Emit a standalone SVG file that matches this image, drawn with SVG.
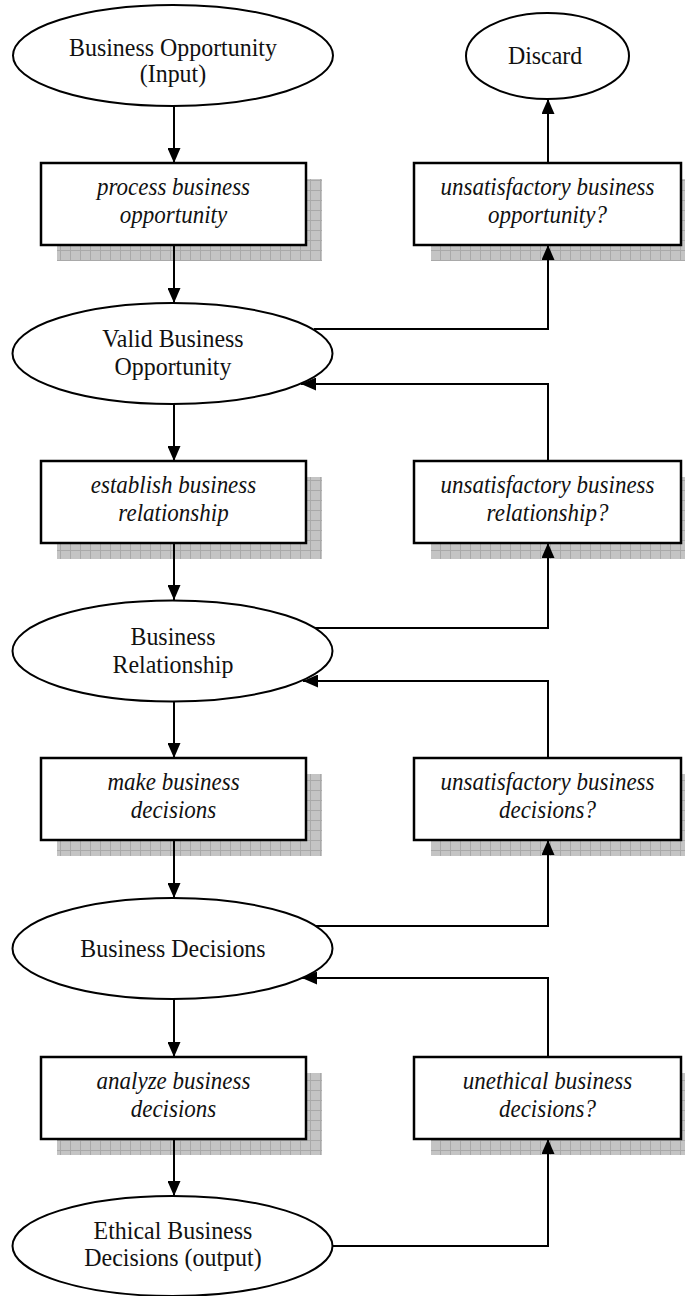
<svg xmlns="http://www.w3.org/2000/svg" width="685" height="1296" viewBox="0 0 685 1296">
  <style>
    .oval { fill: #ffffff; stroke: #000000; stroke-width: 2; }
    .box { fill: #ffffff; stroke: #000000; stroke-width: 2.5; }
    .shadow { fill: url(#grid); stroke: none; }
    .lbl { font-family: "Liberation Serif", "Times New Roman", serif; font-size: 26px; fill: #111111; text-anchor: middle; }
    .act { font-family: "Liberation Serif", "Times New Roman", serif; font-size: 25px; font-style: italic; fill: #111111; text-anchor: middle; }
    .link { fill: none; stroke: #000000; stroke-width: 2; marker-end: url(#arrow); }
  </style>
  <defs>
    <!-- grey cross-ruled fill for the drop shadows -->
    <pattern id="grid" width="10" height="10" patternUnits="userSpaceOnUse">
      <rect width="10" height="10" fill="#c4c4c4"/>
      <path d="M0,0.5 H10 M0.5,0 V10" stroke="#a9a9a9" stroke-width="1"/>
    </pattern>
    <marker id="arrow" markerWidth="15" markerHeight="13" refX="15" refY="6.5" orient="auto" markerUnits="userSpaceOnUse">
      <path d="M0,0 L15,6.5 L0,13 z" fill="#000000"/>
    </marker>
  </defs>

  <rect width="685" height="1296" fill="#ffffff"/>

  <!-- text is set slightly narrow: x positions are divided by 0.92 -->

  <!-- left column: states -->
  <g id="input">
    <ellipse class="oval" cx="173" cy="55.5" rx="160" ry="50.5"/>
    <g transform="scale(0.92,1)">
      <text class="lbl" x="188" y="56">Business Opportunity</text>
      <text class="lbl" x="188" y="82">(Input)</text>
    </g>
  </g>
  <g id="valid-opportunity">
    <ellipse class="oval" cx="172.5" cy="353.5" rx="160" ry="50.5"/>
    <g transform="scale(0.92,1)">
      <text class="lbl" x="188" y="347">Valid Business</text>
      <text class="lbl" x="188" y="375">Opportunity</text>
    </g>
  </g>
  <g id="relationship">
    <ellipse class="oval" cx="172.5" cy="651" rx="160" ry="50.5"/>
    <g transform="scale(0.92,1)">
      <text class="lbl" x="188" y="645">Business</text>
      <text class="lbl" x="188" y="673">Relationship</text>
    </g>
  </g>
  <g id="decisions">
    <ellipse class="oval" cx="172.5" cy="948.5" rx="160" ry="50.5"/>
    <g transform="scale(0.92,1)">
      <text class="lbl" x="188" y="957">Business Decisions</text>
    </g>
  </g>
  <g id="output">
    <ellipse class="oval" cx="172.5" cy="1246" rx="160" ry="50"/>
    <g transform="scale(0.92,1)">
      <text class="lbl" x="188" y="1239">Ethical Business</text>
      <text class="lbl" x="188" y="1266">Decisions (output)</text>
    </g>
  </g>
  <g id="discard">
    <ellipse class="oval" cx="547.5" cy="56" rx="81.5" ry="43"/>
    <g transform="scale(0.92,1)">
      <text class="lbl" x="592.5" y="64">Discard</text>
    </g>
  </g>

  <!-- left column: activities -->
  <g id="process-opportunity">
    <rect class="shadow" x="57" y="179" width="265" height="82"/>
    <rect class="box" x="41" y="163" width="265" height="82"/>
    <g transform="scale(0.92,1)">
      <text class="act" x="188.6" y="195">process business</text>
      <text class="act" x="188.6" y="223">opportunity</text>
    </g>
  </g>
  <g id="establish-relationship">
    <rect class="shadow" x="57" y="477" width="265" height="82"/>
    <rect class="box" x="41" y="461" width="265" height="82"/>
    <g transform="scale(0.92,1)">
      <text class="act" x="188.6" y="493">establish business</text>
      <text class="act" x="188.6" y="521">relationship</text>
    </g>
  </g>
  <g id="make-decisions">
    <rect class="shadow" x="57" y="774" width="265" height="82"/>
    <rect class="box" x="41" y="758" width="265" height="82"/>
    <g transform="scale(0.92,1)">
      <text class="act" x="188.6" y="790">make business</text>
      <text class="act" x="188.6" y="818">decisions</text>
    </g>
  </g>
  <g id="analyze-decisions">
    <rect class="shadow" x="57" y="1073" width="265" height="82"/>
    <rect class="box" x="41" y="1057" width="265" height="82"/>
    <g transform="scale(0.92,1)">
      <text class="act" x="188.6" y="1089">analyze business</text>
      <text class="act" x="188.6" y="1117">decisions</text>
    </g>
  </g>

  <!-- right column: checks -->
  <g id="check-opportunity">
    <rect class="shadow" x="431" y="179" width="267" height="82"/>
    <rect class="box" x="414" y="163" width="267" height="82"/>
    <g transform="scale(0.92,1)">
      <text class="act" x="595.1" y="195">unsatisfactory business</text>
      <text class="act" x="595.1" y="223">opportunity?</text>
    </g>
  </g>
  <g id="check-relationship">
    <rect class="shadow" x="431" y="477" width="267" height="82"/>
    <rect class="box" x="414" y="461" width="267" height="82"/>
    <g transform="scale(0.92,1)">
      <text class="act" x="595.1" y="493">unsatisfactory business</text>
      <text class="act" x="595.1" y="521">relationship?</text>
    </g>
  </g>
  <g id="check-decisions">
    <rect class="shadow" x="431" y="774" width="267" height="82"/>
    <rect class="box" x="414" y="758" width="267" height="82"/>
    <g transform="scale(0.92,1)">
      <text class="act" x="595.1" y="790">unsatisfactory business</text>
      <text class="act" x="595.1" y="818">decisions?</text>
    </g>
  </g>
  <g id="check-ethics">
    <rect class="shadow" x="431" y="1073" width="267" height="82"/>
    <rect class="box" x="414" y="1057" width="267" height="82"/>
    <g transform="scale(0.92,1)">
      <text class="act" x="595.1" y="1089">unethical business</text>
      <text class="act" x="595.1" y="1117">decisions?</text>
    </g>
  </g>

  <!-- connectors -->
  <g id="connectors">
    <!-- main flow down the left column -->
    <path class="link" d="M174,106 V163"/>
    <path class="link" d="M174,245 V303"/>
    <path class="link" d="M174,404 V461"/>
    <path class="link" d="M174,543 V600"/>
    <path class="link" d="M174,702 V758"/>
    <path class="link" d="M174,840 V898"/>
    <path class="link" d="M174,999 V1057"/>
    <path class="link" d="M174,1139 V1196"/>

    <!-- states sent to the checks -->
    <path class="link" d="M314,329 H548 V245"/>
    <path class="link" d="M315,628 H548 V543"/>
    <path class="link" d="M315,926 H548 V840"/>
    <path class="link" d="M332.5,1246 H548 V1139"/>

    <!-- check outcomes -->
    <path class="link" d="M548,163 V99"/>
    <path class="link" d="M548,461 V384 H301"/>
    <path class="link" d="M548,758 V681 H303"/>
    <path class="link" d="M548,1057 V978 H302"/>
  </g>
</svg>
